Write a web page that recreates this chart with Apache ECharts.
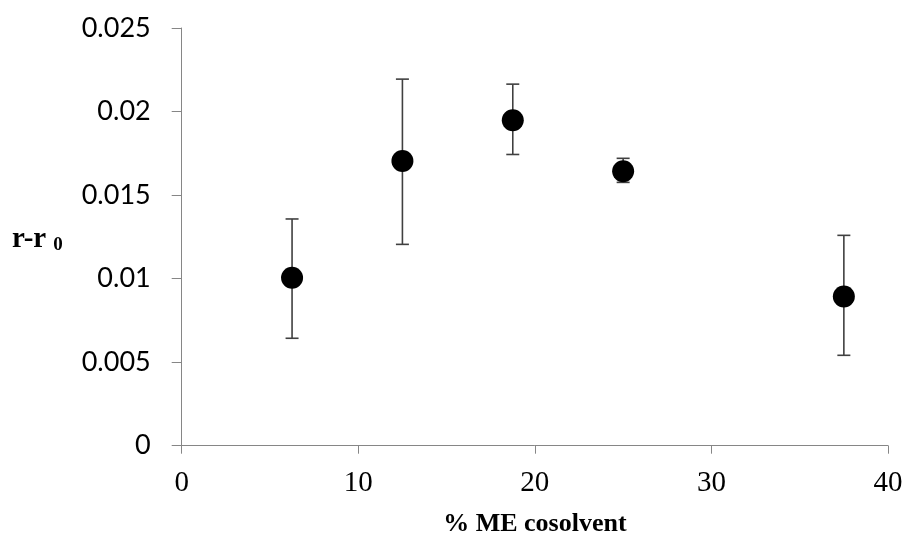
<!DOCTYPE html>
<html>
<head>
<meta charset="utf-8">
<script src="https://cdn.jsdelivr.net/npm/echarts@6/dist/echarts.min.js"></script>
<style>html,body{margin:0;padding:0;background:#fff}#c{width:909px;height:536px}</style>
</head>
<body>
<div id="c"></div>
<script>
const xValues = [6.25, 12.5, 18.75, 25, 37.5];
const yValues = [0.01005, 0.01704, 0.01948, 0.01643, 0.00893];
const yLow = [0.00643, 0.01205, 0.01743, 0.01576, 0.00541];
const yHigh = [0.01357, 0.02194, 0.02164, 0.01720, 0.01259];
const xTicks = [0, 10, 20, 30, 40];
const yTicks = [0, 0.005, 0.01, 0.015, 0.02, 0.025];

const chart = echarts.init(document.getElementById('c'));
const points = xValues.map((x, i) => [x, yValues[i]]);
const bars = xValues.map((x, i) => [x, yLow[i], yHigh[i]]);
const gray = '#868686';

chart.setOption({
  animation: false,
  backgroundColor: '#fff',
  grid: { left: 181.7, right: 21, top: 28, bottom: 90.3, outerBoundsMode: 'none', containLabel: false },
  xAxis: {
    type: 'value', min: xTicks[0], max: xTicks[xTicks.length - 1], interval: 10,
    name: '% ME cosolvent', nameLocation: 'middle', nameGap: 66,
    nameTextStyle: { fontFamily: 'Liberation Serif', fontWeight: 'bold', fontSize: 26, color: '#000' },
    axisLine: { show: true, lineStyle: { color: gray, width: 1 } },
    axisTick: { show: true, length: 8, lineStyle: { color: gray } },
    axisLabel: { fontFamily: 'Liberation Serif', fontSize: 29, color: '#000', margin: 23 },
    splitLine: { show: false }
  },
  yAxis: {
    type: 'value', min: yTicks[0], max: yTicks[yTicks.length - 1], interval: 0.005,
    name: '{a|r-r}{b|0}', nameLocation: 'middle', nameRotate: 0, nameGap: 119,
    nameTextStyle: {
      align: 'right', verticalAlign: 'middle', padding: [6, 0, 0, 0],
      rich: {
        a: { fontFamily: 'Liberation Serif', fontWeight: 'bold', fontSize: 29, color: '#000' },
        b: { fontFamily: 'Liberation Serif', fontWeight: 'bold', fontSize: 19, color: '#000', padding: [10, 0, 0, 7] }
      }
    },
    axisLine: { show: true, lineStyle: { color: gray, width: 1 } },
    axisTick: { show: true, length: 10, lineStyle: { color: gray } },
    axisLabel: {
      fontFamily: 'Lato', fontSize: 27, color: '#000', margin: 31,
      formatter: v => String(+v.toFixed(3))
    },
    splitLine: { show: false }
  },
  series: [
    {
      type: 'custom',
      data: bars,
      z: 2,
      renderItem: function (params, api) {
        const x = api.value(0);
        const lo = api.coord([x, api.value(1)]);
        const hi = api.coord([x, api.value(2)]);
        const hw = 6.5;
        const style = { stroke: '#404040', lineWidth: 1.6, fill: null };
        return {
          type: 'group',
          children: [
            { type: 'line', shape: { x1: lo[0], y1: lo[1], x2: hi[0], y2: hi[1] }, style: style },
            { type: 'line', shape: { x1: lo[0] - hw, y1: lo[1], x2: lo[0] + hw, y2: lo[1] }, style: style },
            { type: 'line', shape: { x1: hi[0] - hw, y1: hi[1], x2: hi[0] + hw, y2: hi[1] }, style: style }
          ]
        };
      }
    },
    {
      type: 'scatter',
      data: points,
      z: 3,
      symbol: 'circle',
      symbolSize: 22,
      itemStyle: { color: '#000', opacity: 1 }
    }
  ]
});
</script>
</body>
</html>
